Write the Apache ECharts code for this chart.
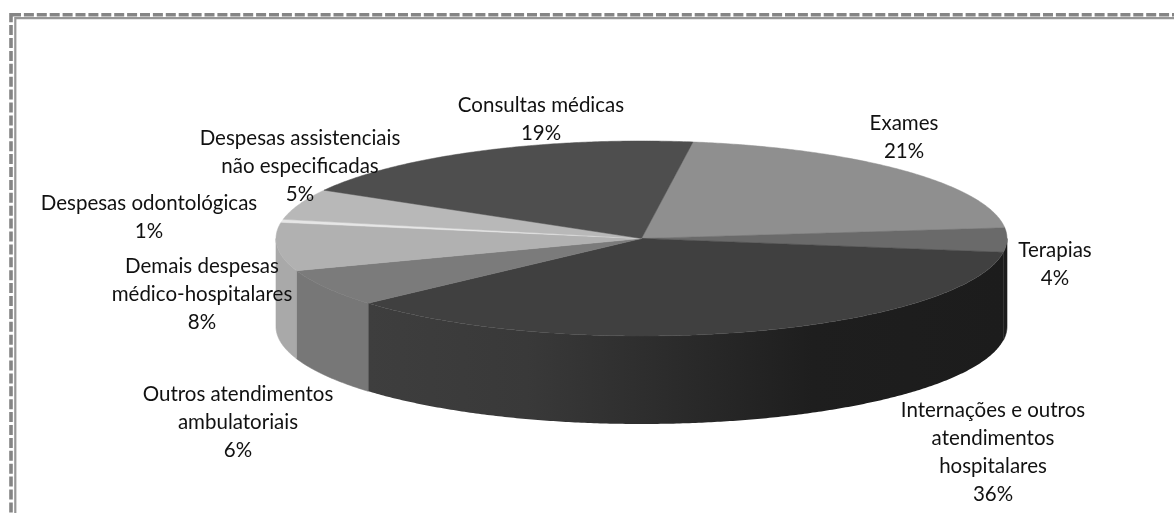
<!DOCTYPE html>
<html>
<head>
<meta charset="utf-8">
<script src="https://cdn.jsdelivr.net/npm/echarts@6/dist/echarts.min.js"></script>
<style>html,body{margin:0;padding:0;background:#fff}#c{width:1174px;height:513px}</style>
</head>
<body>
<div id="c"></div>
<script>
// DATA (clockwise from the Exames slice)
const categories = ['Exames', 'Terapias', 'Internações e outros\natendimentos\nhospitalares', 'Outros atendimentos\nambulatoriais', 'Demais despesas\nmédico-hospitalares', 'Despesas odontológicas', 'Despesas assistenciais\nnão especificadas', 'Consultas médicas'];
const values = [21, 4, 36.2, 6.2, 8, 0.5, 5.1, 19];
const topColors = ['#8f8f8f', '#6a6a6a', '#404040', '#7b7b7b', '#b1b1b1', '#e6e6e6', '#b8b8b8', '#4e4e4e'];
const wallColors = ['#6f6f6f', '#1c1c1c', null, '#777777', '#a9a9a9', '#c8c8c8', '#a9a9a9', '#3e3e3e'];
const labelCentres = [[904, 137], [1055, 264], [993, 452.5], [238, 422], [202, 294], [149, 217], [300, 166], [541, 119.5]];

// LAYOUT
const cx = 641.5, cy = 238.5, rx = 365.5, ry = 97.5, depth = 88, startAngle = 8.1;
const fontFamily = 'Lato, "Open Sans", sans-serif', fontSize = 20.5, lineHeight = 28;
const total = values.reduce((a, b) => a + b, 0);
const toAngle = v => echarts.number.linearMap(v, [0, total], [0, 360]);

let acc = 0;
const rows = values.map((v, i) => {
  const s = startAngle + toAngle(acc);
  acc += v;
  return [i, s, startAngle + toAngle(acc)];
});
const rim = (a, dy) => {
  const r = a * Math.PI / 180;
  return [cx + rx * Math.sin(r), cy - ry * Math.cos(r) + (dy || 0)];
};
const arc = (s, e, dy) => {
  const pts = [], n = Math.max(2, Math.ceil((e - s) / 0.5));
  for (let k = 0; k <= n; k++) pts.push(rim(s + (e - s) * k / n, dy));
  return pts;
};
const internWall = {
  type: 'linear', x: 0, y: 0, x2: 1, y2: 0,
  colorStops: [
    { offset: 0, color: '#3e3e3e' }, { offset: 0.25, color: '#393939' },
    { offset: 0.5, color: '#2a2a2a' }, { offset: 0.7, color: '#1e1e1e' }, { offset: 1, color: '#1c1c1c' }
  ]
};

const option = {
  animation: false,
  backgroundColor: '#fff',
  graphic: [
    { type: 'rect', shape: { x: 11, y: 14.7, width: 1300, height: 800 }, silent: true, z: 1,
      style: { fill: null, stroke: '#858585', lineWidth: 3.6, lineDash: [10, 2.9] } },
    { type: 'rect', shape: { x: 15.3, y: 18.2, width: 1300, height: 800 }, silent: true, z: 1,
      style: { fill: null, stroke: '#969696', lineWidth: 2.2 } }
  ],
  series: [
    { type: 'custom', coordinateSystem: 'none', z: 2, silent: true, data: rows,
      renderItem(params, api) {
        const i = api.value(0), s = Math.max(api.value(1), 90), e = Math.min(api.value(2), 270);
        if (e <= s) return null;
        const points = arc(s, e, 0).concat(arc(s, e, depth).reverse());
        const fill = wallColors[i] || internWall;
        return { type: 'polygon', shape: { points },
          style: { fill, stroke: wallColors[i] || '#303030', lineWidth: wallColors[i] ? 0.6 : 0 } };
      } },
    { type: 'custom', coordinateSystem: 'none', z: 3, silent: true, data: rows,
      renderItem(params, api) {
        const i = api.value(0), s = api.value(1), e = api.value(2);
        const points = [[cx, cy]].concat(arc(s, e, 0));
        return { type: 'polygon', shape: { points },
          style: { fill: topColors[i], stroke: topColors[i], lineWidth: 0.5 } };
      } },
    { type: 'custom', coordinateSystem: 'none', z: 4, silent: true, data: rows,
      renderItem(params, api) {
        const i = api.value(0);
        return { type: 'text', x: labelCentres[i][0], y: labelCentres[i][1],
          style: { text: categories[i] + '\n' + Math.round(values[i]) + '%', fill: '#111',
            font: fontSize + 'px ' + fontFamily, lineHeight,
            align: 'center', verticalAlign: 'middle' } };
      } }
  ]
};
echarts.init(document.getElementById('c'), null, { renderer: 'canvas' }).setOption(option);
</script>
</body>
</html>
